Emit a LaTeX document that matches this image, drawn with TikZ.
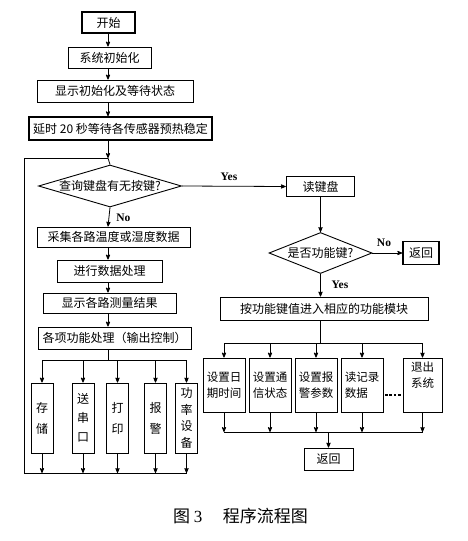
\documentclass[tikz,border=0pt]{standalone}
\usepackage{fontspec}
\setmainfont{Noto Sans CJK SC}
\newfontfamily\latfont{Liberation Serif}
\usetikzlibrary{positioning}
\usetikzlibrary{arrows}
\usetikzlibrary{shapes.geometric}
\tikzset{>=stealth'}
\tikzset{blk/.style={draw, line width=0.9pt, inner sep=0pt, align=center, font=\fontsize{12}{16}\selectfont}}
\tikzset{blkb/.style={blk, line width=1.5pt}}
\tikzset{dia/.style={draw, diamond, line width=0.9pt, inner sep=0pt, font=\fontsize{12}{16}\selectfont}}
\tikzset{vbox/.style={blk, minimum width=22pt, minimum height=70pt}}
\tikzset{mbox/.style={blk, minimum width=42pt, minimum height=54pt, font=\fontsize{11.5}{16}\selectfont}}
\tikzset{ed/.style={inner sep=1pt, font=\latfont\bfseries\fontsize{11.5}{13}\selectfont}}
\tikzset{dotln/.style={line width=2.2pt, dash pattern=on 2.6pt off 1.8pt}}

\begin{document}
\begin{tikzpicture}[x=1pt, y=-1pt, line width=0.8pt]
    \useasboundingbox (0,0) rectangle (468,541);

    % left column
    \node[blkb, minimum width=53pt, minimum height=21pt] (start) at (108.5,22.5) {开始};
    \node[blk, minimum width=83pt, minimum height=21pt] (init) at (109.5,57.5) {系统初始化};
    \node[blk, minimum width=156pt, minimum height=22pt] (disp) at (115,91) {显示初始化及等待状态};
    \node[blkb, minimum width=183pt, minimum height=23pt] (delay) at (120.5,128.5) {延时 20 秒等待各传感器预热稳定};
    \node[dia, minimum width=143pt, minimum height=42pt, aspect=3.4] (q1) at (110,186) {查询键盘有无按键?};
    \node[blk, minimum width=153pt, minimum height=20pt] (acq) at (113.5,237) {采集各路温度或湿度数据};
    \node[blk, minimum width=105pt, minimum height=22pt] (proc) at (109.5,271) {进行数据处理};
    \node[blk, minimum width=133pt, minimum height=20pt] (show) at (109.5,303) {显示各路测量结果};
    \node[blk, minimum width=153pt, minimum height=22pt] (func) at (114.5,338) {各项功能处理（输出控制）};

    \node[vbox, font=\fontsize{12}{21}\selectfont] (s1) at (42,418) {存\\储};
    \node[vbox, font=\fontsize{12}{19}\selectfont] (s2) at (83,418) {送\\串\\口};
    \node[vbox, font=\fontsize{12}{21}\selectfont] (s3) at (117.5,418) {打\\印};
    \node[vbox, font=\fontsize{12}{21}\selectfont] (s4) at (155.5,418) {报\\警};
    \node[vbox, font=\fontsize{12}{16.5}\selectfont] (s5) at (186.5,418) {功\\率\\设\\备};

    \node[ed] (no1) [anchor=west] at (115,218) {No};
    \node[ed] (yes1) at (229,177) {Yes};

    % right column
    \node[blkb, minimum width=68pt, minimum height=20pt] (read) at (320.5,186.5) {读键盘};
    \node[dia, minimum width=103pt, minimum height=41pt, aspect=2.5] (q2) at (320.5,253) {是否功能键?};
    \node[blkb, minimum width=36pt, minimum height=23pt] (ret1) at (421,253) {返回};
    \node[blk, minimum width=208pt, minimum height=23pt] (mod) at (324,308.5) {按功能键值进入相应的功能模块};

    \node[mbox] (m1) at (224,385) {设置日\\期时间};
    \node[mbox] (m2) at (270,385) {设置通\\信状态};
    \node[mbox] (m3) at (316,385) {设置报\\警参数};
    \node[mbox, align=left] (m4) at (362,385) {读记录\\数据};
    \node[mbox, minimum width=39pt] (m5) at (422.5,385) {退出\\系统\\[4pt]};
    \node[blk, minimum width=49pt, minimum height=22pt] (ret2) at (328.5,459) {返回};

    \node[ed] (no2) at (384,243) {No};
    \node[ed] (yes2) at (340,285) {Yes};

    \node[font=\fontsize{17}{20}\selectfont] (cap) at (240.5,516) {图 {\latfont 3}\hspace{1.2em}程序流程图};

    % left connectors
    \coordinate (sx) at (108,0);
    \coordinate (jn) at (108,158);
    \coordinate (bus1) at (108,360);
    \coordinate (bot) at (24,473);
    \draw[->] (start.south -| sx) -- (init.north -| sx);
    \draw[->] (init.south -| sx) -- (disp.north -| sx);
    \draw[->] (disp.south -| sx) -- (delay.north -| sx);
    \draw[->] (delay.south -| sx) -- (jn);
    \draw (jn) -- (q1.north);
    \draw[->] (q1.south) -- (acq.north -| sx);
    \draw[->] (acq.south -| sx) -- (proc.north -| sx);
    \draw[->] (proc.south -| sx) -- (show.north -| sx);
    \draw[->] (show.south -| sx) -- (func.north -| sx);
    \draw (func.south -| sx) -- (bus1);
    \draw (bus1 -| s1) -- (bus1 -| s5);
    \foreach \b in {s1,s2,s3,s4,s5} {
        \draw[->] (bus1 -| \b) -- (\b.north);
        \draw[->] (\b.south) -- (bot -| \b);
    }
    \draw (bot -| s5) -- (bot) -- (bot |- jn) -- (jn);

    % right connectors
    \coordinate (bus2) at (320.5,343);
    \coordinate (bus3) at (328.5,432);
    \coordinate (dl) at (385,395);
    \coordinate (dr) at (402,395);
    \draw[->] (q1.east) -- (read.west);
    \draw[->] (read) -- (q2);
    \draw[->] (q2.east) -- (ret1.west);
    \draw[->] (q2.south) -- (mod.north -| q2.south);
    \draw (mod.south -| bus2) -- (bus2);
    \draw (bus2 -| m1) -- (bus2 -| m5);
    \foreach \m in {m1,m2,m3,m4,m5} {
        \draw[->] (bus2 -| \m) -- (\m.north);
        \draw[->] (\m.south) -- (bus3 -| \m);
    }
    \draw (bus3 -| m1) -- (bus3 -| m5);
    \draw[->] (bus3) -- (ret2.north);
    \draw[dotln] (dl) -- (dr);
\end{tikzpicture}
\end{document}
